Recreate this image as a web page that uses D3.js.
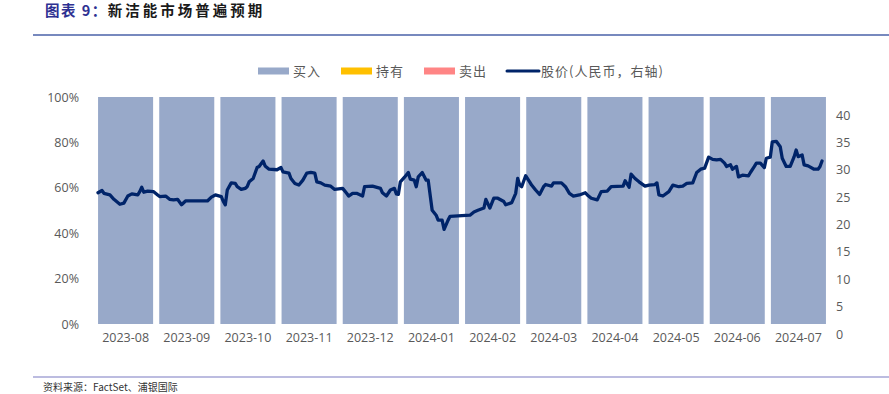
<!DOCTYPE html>
<html><head><meta charset="utf-8">
<script src="https://cdn.jsdelivr.net/npm/d3@7"></script>
<style>
html,body{margin:0;padding:0;background:#fff;}
svg{display:block;}
</style></head>
<body>
<svg id="chart" width="889" height="394"></svg>
<script>
// ---------- data ----------
const months = ["2023-08","2023-09","2023-10","2023-11","2023-12","2024-01","2024-02","2024-03","2024-04","2024-05","2024-06","2024-07"];
const buyShare  = [1,1,1,1,1,1,1,1,1,1,1,1];
const holdShare = [0,0,0,0,0,0,0,0,0,0,0,0];
const sellShare = [0,0,0,0,0,0,0,0,0,0,0,0];
const leftTicks  = [0,0.2,0.4,0.6,0.8,1];
const rightTicks = [0,5,10,15,20,25,30,35,40];

const lineDates = [
 "2023-08-01","2023-08-03","2023-08-04","2023-08-07","2023-08-09","2023-08-12","2023-08-14","2023-08-16","2023-08-18","2023-08-21","2023-08-22","2023-08-23","2023-08-24","2023-08-26","2023-08-29","2023-08-31",
 "2023-09-01","2023-09-04","2023-09-06","2023-09-08","2023-09-10","2023-09-12","2023-09-14","2023-09-16","2023-09-25","2023-09-27","2023-09-29",
 "2023-10-02","2023-10-03","2023-10-04","2023-10-05","2023-10-07","2023-10-09","2023-10-10","2023-10-12","2023-10-14","2023-10-15","2023-10-16","2023-10-18","2023-10-19","2023-10-20","2023-10-21","2023-10-23","2023-10-24","2023-10-26","2023-10-30",
 "2023-11-01","2023-11-02","2023-11-05","2023-11-06","2023-11-08","2023-11-10","2023-11-12","2023-11-14","2023-11-16","2023-11-18","2023-11-19","2023-11-21","2023-11-23","2023-11-26","2023-11-28",
 "2023-12-02","2023-12-04","2023-12-05","2023-12-07","2023-12-09","2023-12-12","2023-12-13","2023-12-17","2023-12-21","2023-12-22","2023-12-24","2023-12-26","2023-12-28","2023-12-29","2023-12-30","2023-12-31",
 "2024-01-02","2024-01-04","2024-01-05","2024-01-07","2024-01-08","2024-01-09","2024-01-11","2024-01-13","2024-01-14","2024-01-16","2024-01-18","2024-01-19","2024-01-21","2024-01-22","2024-01-24","2024-01-25",
 "2024-02-04","2024-02-06","2024-02-08","2024-02-11","2024-02-12","2024-02-14","2024-02-16","2024-02-18","2024-02-21","2024-02-22","2024-02-25","2024-02-27","2024-02-28","2024-02-29",
 "2024-03-01","2024-03-03","2024-03-05","2024-03-06","2024-03-08","2024-03-10","2024-03-12","2024-03-13","2024-03-16","2024-03-17","2024-03-21","2024-03-23","2024-03-25","2024-03-27","2024-03-30",
 "2024-04-02","2024-04-03","2024-04-05","2024-04-08","2024-04-10","2024-04-13","2024-04-15","2024-04-21","2024-04-22","2024-04-24","2024-04-25","2024-04-27","2024-04-29",
 "2024-05-02","2024-05-04","2024-05-07","2024-05-08","2024-05-09","2024-05-11","2024-05-14","2024-05-16","2024-05-19","2024-05-21","2024-05-23","2024-05-26","2024-05-28","2024-05-30",
 "2024-06-01","2024-06-03","2024-06-05","2024-06-07","2024-06-09","2024-06-11","2024-06-12","2024-06-14","2024-06-15","2024-06-17","2024-06-18","2024-06-20","2024-06-23","2024-06-24","2024-06-26","2024-06-27","2024-06-29",
 "2024-07-01","2024-07-02","2024-07-04","2024-07-05","2024-07-07","2024-07-09","2024-07-10","2024-07-12","2024-07-14","2024-07-16","2024-07-17","2024-07-18","2024-07-20","2024-07-21","2024-07-23","2024-07-26","2024-07-28","2024-07-29","2024-07-30"
];
const linePrices = [
 25.8,26.2,25.7,25.4,24.6,23.7,23.9,25.2,25.6,25.4,26.0,26.8,25.9,26.1,26.0,25.4,
 25.1,25.2,24.6,24.5,24.6,23.6,24.3,24.3,24.3,25.0,25.4,
 25.1,24.2,23.6,26.3,27.6,27.5,26.9,26.4,26.6,26.9,27.8,28.4,29.4,30.4,30.6,31.6,30.7,30.1,30.0,
 30.4,29.6,29.4,28.4,27.5,27.2,28.1,29.4,29.5,29.4,27.8,27.6,27.2,27.0,26.4,
 26.6,25.7,25.2,25.7,25.7,25.2,26.9,27.0,26.6,25.8,25.2,26.3,26.6,25.6,25.5,27.8,
 28.6,29.5,28.3,28.1,26.9,28.7,29.5,28.1,28.1,22.6,21.7,20.8,20.8,19.1,20.8,21.5,
 21.7,22.3,22.6,23.0,24.6,23.0,24.8,24.8,24.2,23.6,24.0,25.7,28.4,27.2,
 26.9,28.9,27.8,27.2,26.3,25.5,26.9,27.3,27.0,27.6,27.6,26.9,25.7,25.2,25.4,
 25.8,25.4,24.8,24.5,26.0,26.1,26.9,27.0,28.0,26.8,29.2,28.4,27.8,
 27.0,27.2,27.3,27.6,25.4,25.2,26.0,27.2,26.9,27.0,27.5,27.6,29.5,30.1,
 30.3,32.3,31.9,31.8,31.9,31.2,30.6,30.9,30.1,30.6,28.7,29.0,28.9,29.5,30.6,31.2,31.2,
 30.4,32.1,32.3,35.1,35.2,34.2,32.1,30.6,30.6,32.4,33.6,32.4,32.7,30.9,30.7,30.1,30.1,30.6,31.6
];

const legendItems = [
  {label:"买入", type:"rect", color:"#98A9C9"},
  {label:"持有", type:"rect", color:"#FFC000"},
  {label:"卖出", type:"rect", color:"#FF8585"},
  {label:"股价(人民币，右轴)", type:"line", color:"#002469"}
];

// ---------- drawing ----------
const svg = d3.select("#chart");
const tickFont = "'Open Sans','Noto Sans',sans-serif";
const cjkFont = "'Noto Sans CJK SC','Noto Sans',sans-serif";
const tickColor = "#595959";

// title
const title = svg.append("text").attr("x",45).attr("y",16)
  .attr("font-family",cjkFont).attr("font-size",14.5).attr("font-weight","bold")
  .attr("letter-spacing",1.5);
title.append("tspan").attr("fill","#2E3192").text("图表 9：");
title.append("tspan").attr("fill","#1a1a1a").attr("letter-spacing",3).text("新洁能市场普遍预期");

svg.append("line").attr("x1",33).attr("x2",889).attr("y1",35).attr("y2",35)
  .attr("stroke","#4A62A8").attr("stroke-width",1.3);

svg.append("line").attr("x1",33).attr("x2",889).attr("y1",377).attr("y2",377)
  .attr("stroke","#A6A6D6").attr("stroke-width",1.3);
svg.append("text").attr("x",43).attr("y",391)
  .attr("font-family",cjkFont).attr("font-size",10).attr("fill","#333")
  .text("资料来源：FactSet、浦银国际");

// scales
const x = d3.scaleBand().domain(months).range([95,829]).paddingInner(0.1).paddingOuter(0.05);
const yL = d3.scaleLinear().domain([0,1]).range([324,97]);
const yR = d3.scaleLinear().domain([0,40]).range([334,115]);
const parse = d3.timeParse("%Y-%m-%d");
const xT = d3.scaleTime().domain([parse("2023-08-01"), parse("2024-08-01")]).range([98,826]);

// stacked bars
const rows = months.map((m,i)=>({m, buy:buyShare[i], hold:holdShare[i], sell:sellShare[i]}));
const stack = d3.stack().keys(["buy","hold","sell"])(rows);
const colors = {buy:"#98A9C9", hold:"#FFC000", sell:"#FF8585"};
svg.append("g").selectAll("g").data(stack).join("g")
  .attr("fill", d=>colors[d.key])
  .selectAll("rect").data(d=>d).join("rect")
  .attr("x", d=>x(d.data.m)).attr("width", x.bandwidth())
  .attr("y", d=>yL(d[1])).attr("height", d=>Math.max(0, yL(d[0])-yL(d[1])));

// left axis
const axL = svg.append("g").attr("transform","translate(79,0)")
  .call(d3.axisLeft(yL).tickValues(leftTicks).tickFormat(d3.format(".0%")).tickSize(0).tickPadding(0));
axL.select(".domain").remove();
axL.selectAll("text").attr("font-family",tickFont).attr("font-size",12.5).attr("fill",tickColor);

// right axis
const axR = svg.append("g").attr("transform","translate(836,0)")
  .call(d3.axisRight(yR).tickValues(rightTicks).tickSize(0).tickPadding(0));
axR.select(".domain").remove();
axR.selectAll("text").attr("font-family",tickFont).attr("font-size",12.5).attr("fill",tickColor);

// bottom axis
const axB = svg.append("g").attr("transform","translate(0,333)")
  .call(d3.axisBottom(x).tickSize(0).tickPadding(0));
axB.select(".domain").remove();
axB.selectAll("text").attr("font-family",tickFont).attr("font-size",12.5).attr("fill",tickColor);

// price line
const pts = lineDates.map((d,i)=>({date:parse(d), v:linePrices[i]}));
svg.append("path").datum(pts)
  .attr("fill","none").attr("stroke","#002469").attr("stroke-width",3.3)
  .attr("stroke-linejoin","round").attr("stroke-linecap","round")
  .attr("d", d3.line().x(d=>xT(d.date)).y(d=>yR(d.v)));

// legend
const legX = [258, 341, 424, 506];
const lg = svg.append("g");
legendItems.forEach((it,i)=>{
  const g = lg.append("g").attr("transform",`translate(${legX[i]},71)`);
  if(it.type==="rect"){
    g.append("rect").attr("x",0).attr("y",-3.5).attr("width",31).attr("height",7).attr("fill",it.color);
  } else {
    g.append("line").attr("x1",1).attr("x2",33).attr("y1",0).attr("y2",0)
      .attr("stroke",it.color).attr("stroke-width",3).attr("stroke-linecap","round");
  }
  g.append("text").attr("x",35).attr("y",4.5)
    .attr("font-family",cjkFont).attr("font-size",13).attr("fill",tickColor)
    .attr("letter-spacing",1)
    .text(it.label);
});
</script>
</body></html>
